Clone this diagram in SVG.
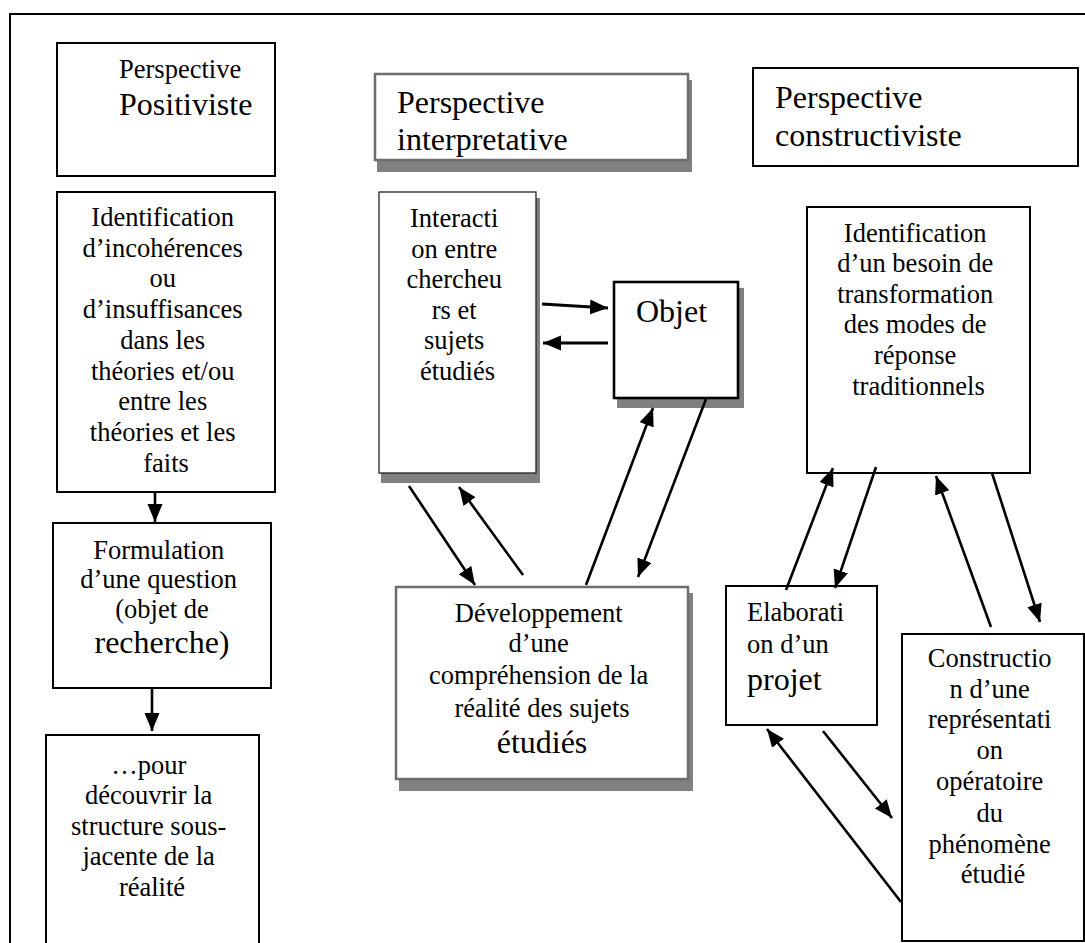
<svg xmlns="http://www.w3.org/2000/svg" width="1085" height="943" viewBox="0 0 1085 943">
  <style>
    text { font-family: "Liberation Serif", "Times New Roman", serif; fill: #000; }
    .t { font-size: 26.5px; }
    .big { font-size: 32px; }
    .c { text-anchor: middle; }
    .box { fill: #fff; stroke: #000; stroke-width: 2; }
    .thin { fill: #fff; stroke: #222; stroke-width: 1.3; }
    .grey { fill: #fff; stroke: #6e6e6e; stroke-width: 2.5; }
    .shadow { fill: #808080; stroke: none; }
    .arrow { fill: none; stroke: #000; stroke-width: 2.6; marker-end: url(#head); }
    .arrowb { fill: none; stroke: #000; stroke-width: 3.2; marker-end: url(#head); }
  </style>
  <defs>
    <marker id="head" markerUnits="userSpaceOnUse" markerWidth="20" markerHeight="16" refX="18" refY="7.5" orient="auto">
      <path d="M0,0 L18,7.5 L0,15 z" fill="#000"/>
    </marker>
  </defs>

  <rect width="1085" height="943" fill="#fff"/>
  <!-- outer frame (continues past the right and bottom edges) -->
  <path d="M10,960 L10,14 L1100,14" fill="none" stroke="#000" stroke-width="2"/>

  <!-- left column: positivist perspective -->
  <g id="positiviste">
    <rect class="box" x="57" y="43" width="218" height="133"/>
    <text class="t" x="119" y="78">Perspective</text>
    <text class="big" x="119" y="115">Positiviste</text>
  </g>
  <g id="identification-incoherences">
    <rect class="box" x="57" y="192" width="218" height="300"/>
    <text class="t c" x="166">
      <tspan x="166" y="226">Identification</tspan>
      <tspan x="166" y="257">d’incohérences</tspan>
      <tspan x="166" y="287">ou</tspan>
      <tspan x="166" y="318">d’insuffisances</tspan>
      <tspan x="166" y="349">dans les</tspan>
      <tspan x="166" y="380">théories et/ou</tspan>
      <tspan x="166" y="410">entre les</tspan>
      <tspan x="166" y="441">théories et les</tspan>
      <tspan x="166" y="472">faits</tspan>
    </text>
  </g>
  <g id="formulation">
    <rect class="box" x="53" y="523" width="218" height="165"/>
    <text class="t c">
      <tspan x="162" y="559">Formulation</tspan>
      <tspan x="162" y="588">d’une question</tspan>
      <tspan x="162" y="618">(objet de</tspan>
    </text>
    <text class="big c" x="162" y="653">recherche)</text>
  </g>
  <g id="structure">
    <rect class="box" x="46" y="735" width="213" height="230"/>
    <text class="t c">
      <tspan x="152" y="774">…pour</tspan>
      <tspan x="152" y="804">découvrir la</tspan>
      <tspan x="152" y="835">structure sous-</tspan>
      <tspan x="152" y="865">jacente de la</tspan>
      <tspan x="152" y="896">réalité</tspan>
    </text>
  </g>

  <!-- middle column: interpretative perspective -->
  <g id="interpretative">
    <rect class="shadow" x="377" y="80" width="315" height="92"/>
    <rect class="grey" x="375" y="74" width="313" height="86"/>
    <text class="big" x="397" y="113">Perspective</text>
    <text class="big" x="397" y="150">interpretative</text>
  </g>
  <g id="interaction">
    <rect class="shadow" x="381" y="198" width="159" height="285"/>
    <rect class="thin" x="379" y="192" width="157" height="281"/>
    <text class="t c">
      <tspan x="457.5" y="227">Interacti</tspan>
      <tspan x="457.5" y="258">on entre</tspan>
      <tspan x="457.5" y="288">chercheu</tspan>
      <tspan x="457.5" y="319">rs et</tspan>
      <tspan x="457.5" y="349">sujets</tspan>
      <tspan x="457.5" y="380">étudiés</tspan>
    </text>
  </g>
  <g id="objet">
    <rect class="shadow" x="617" y="288" width="127" height="120"/>
    <rect x="614" y="282" width="124" height="116" fill="#fff" stroke="#000" stroke-width="2.6"/>
    <text class="big" x="636" y="322">Objet</text>
  </g>
  <g id="developpement">
    <rect class="shadow" x="399" y="593" width="294" height="198"/>
    <rect class="grey" x="396" y="587" width="292" height="192"/>
    <text class="t c">
      <tspan x="542" y="622">Développement</tspan>
      <tspan x="542" y="652">d’une</tspan>
      <tspan x="542" y="684">compréhension de la</tspan>
      <tspan x="542" y="717">réalité des sujets</tspan>
    </text>
    <text class="big c" x="542" y="753">étudiés</text>
  </g>

  <!-- right column: constructivist perspective -->
  <g id="constructiviste">
    <rect class="box" x="753" y="68" width="325" height="98"/>
    <text class="big" x="775" y="108">Perspective</text>
    <text class="big" x="775" y="146">constructiviste</text>
  </g>
  <g id="besoin">
    <rect class="box" x="807" y="207" width="223" height="266" stroke-width="1.6"/>
    <text class="t c">
      <tspan x="918.5" y="242">Identification</tspan>
      <tspan x="918.5" y="272">d’un besoin de</tspan>
      <tspan x="918.5" y="303">transformation</tspan>
      <tspan x="918.5" y="333">des modes de</tspan>
      <tspan x="918.5" y="364">réponse</tspan>
      <tspan x="918.5" y="395">traditionnels</tspan>
    </text>
  </g>
  <g id="projet">
    <rect class="box" x="726" y="586" width="151" height="139" stroke-width="1.6"/>
    <text class="t" x="747" y="621">Elaborati</text>
    <text class="t" x="747" y="653">on d’un</text>
    <text class="big" x="747" y="690">projet</text>
  </g>
  <g id="representation">
    <rect class="box" x="902" y="634" width="182" height="307" stroke-width="1.6"/>
    <text class="t c">
      <tspan x="993" y="667">Constructio</tspan>
      <tspan x="993" y="698">n d’une</tspan>
      <tspan x="993" y="728">représentati</tspan>
      <tspan x="993" y="759">on</tspan>
      <tspan x="993" y="790">opératoire</tspan>
      <tspan x="993" y="822">du</tspan>
      <tspan x="993" y="853">phénomène</tspan>
      <tspan x="993" y="883">étudié</tspan>
    </text>
  </g>

  <!-- connectors -->
  <g id="connectors">
    <!-- positivist chain -->
    <line class="arrow" x1="155" y1="492" x2="155" y2="522"/>
    <line class="arrow" x1="152" y1="688" x2="152" y2="731"/>
    <!-- interaction / objet -->
    <line class="arrowb" x1="542" y1="304" x2="608" y2="308"/>
    <line class="arrowb" x1="608" y1="343" x2="543" y2="343"/>
    <!-- interaction / développement -->
    <line class="arrow" x1="409" y1="486" x2="475" y2="585"/>
    <line class="arrow" x1="523" y1="575" x2="459" y2="487"/>
    <!-- objet / développement -->
    <line class="arrow" x1="586" y1="585" x2="653" y2="408"/>
    <line class="arrow" x1="706" y1="399" x2="638" y2="577"/>
    <!-- besoin / projet -->
    <line class="arrow" x1="786" y1="590" x2="833" y2="468"/>
    <line class="arrow" x1="876" y1="467" x2="835" y2="588"/>
    <!-- besoin / représentation -->
    <line class="arrow" x1="991" y1="627" x2="936" y2="476"/>
    <line class="arrow" x1="992" y1="473" x2="1040" y2="622"/>
    <!-- projet / représentation -->
    <line class="arrow" x1="823" y1="731" x2="892" y2="818"/>
    <line class="arrow" x1="901" y1="902" x2="767" y2="729"/>
  </g>
</svg>
